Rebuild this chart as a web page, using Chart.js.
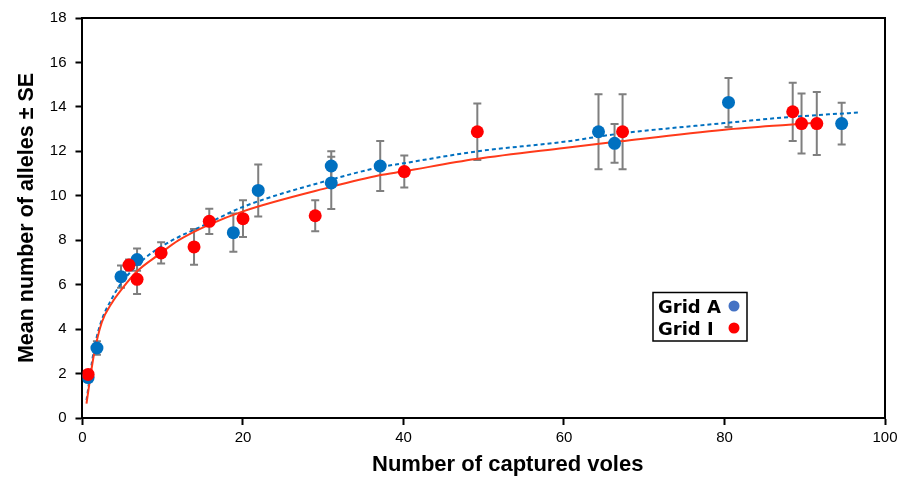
<!DOCTYPE html>
<html>
<head>
<meta charset="utf-8">
<script src="https://cdn.jsdelivr.net/npm/chart.js@4.4.1/dist/chart.umd.min.js"></script>
<style>
  html, body { margin: 0; padding: 0; background: #fff; }
  #wrap { width: 909px; height: 477px; position: relative; }
</style>
</head>
<body>
<div id="wrap"><canvas id="voles-chart"></canvas></div>
<script>
// Grid A (blue) observed means and standard errors
const gridAX = [0.7, 1.8, 4.8, 6.8, 18.8, 21.9, 31, 31, 37.1, 64.3, 66.3, 80.5, 94.6];
const gridAY = [1.82, 3.15, 6.36, 7.13, 8.34, 10.24, 11.34, 10.58, 11.34, 12.88, 12.36, 14.2, 13.25];
const gridASE = [0.1, 0.3, 0.5, 0.5, 0.86, 1.17, 0.66, 1.18, 1.12, 1.69, 0.87, 1.1, 0.94];

// Grid I (red)
const gridIX = [0.7, 5.8, 6.8, 9.8, 13.9, 15.8, 20, 29, 40.1, 49.2, 67.3, 88.5, 89.6, 91.5];
const gridIY = [1.96, 6.88, 6.24, 7.43, 7.7, 8.85, 8.97, 9.1, 11.09, 12.88, 12.88, 13.78, 13.25, 13.25];
const gridISE = [0.1, 0.25, 0.66, 0.48, 0.8, 0.57, 0.83, 0.7, 0.72, 1.27, 1.69, 1.31, 1.35, 1.42];

// fitted curves
const fitAX = [0.5, 1.4, 2.2, 3.7, 4.9, 7.8, 11.2, 15, 20, 31, 37, 40, 49, 60, 67, 80, 88, 96.8];
const fitAY = [0.8, 3.0, 4.2, 5.4, 6.1, 7.2, 8.0, 8.65, 9.5, 10.73, 11.28, 11.46, 11.99, 12.43, 12.8, 13.27, 13.54, 13.75];
const fitIX = [0.5, 1.4, 2.4, 3.7, 4.9, 6.8, 9.5, 12, 15.8, 20, 31, 37, 40, 49, 60, 67, 80, 88, 91.8];
const fitIY = [0.65, 2.8, 4.3, 5.2, 5.8, 6.6, 7.35, 8.0, 8.7, 9.3, 10.4, 10.92, 11.1, 11.65, 12.15, 12.45, 12.97, 13.2, 13.3];

const xTicks = [0, 20, 40, 60, 80, 100];
const yTicks = [0, 2, 4, 6, 8, 10, 12, 14, 16, 18];
const xTitle = 'Number of captured voles';
const legendLabels = ['Grid A', 'Grid I'];
const legendColors = ['#4472C4', '#FF0000'];

const toPoints = (xs, ys) => xs.map((x, i) => ({ x: x, y: ys[i] }));
const FONT = '"Liberation Sans", Arial, sans-serif';

const errorBars = {
  id: 'errorBars',
  beforeDatasetsDraw(chart) {
    const { ctx, scales } = chart;
    ctx.save();
    ctx.strokeStyle = '#7f7f7f';
    ctx.lineWidth = 2;
    chart.data.datasets.forEach((ds) => {
      if (!ds.se) return;
      ds.data.forEach((p, i) => {
        const px = scales.x.getPixelForValue(p.x);
        const top = scales.y.getPixelForValue(p.y + ds.se[i]);
        const bot = scales.y.getPixelForValue(p.y - ds.se[i]);
        ctx.beginPath();
        ctx.moveTo(px, top); ctx.lineTo(px, bot);
        ctx.moveTo(px - 4, top); ctx.lineTo(px + 4, top);
        ctx.moveTo(px - 4, bot); ctx.lineTo(px + 4, bot);
        ctx.stroke();
      });
    });
    ctx.restore();
  },
};

const frameAndLegend = {
  id: 'frameAndLegend',
  afterDraw(chart) {
    const { ctx, chartArea: a } = chart;
    ctx.save();
    ctx.strokeStyle = '#000';
    ctx.lineWidth = 2;
    ctx.beginPath();
    ctx.moveTo(a.left, a.top); ctx.lineTo(a.right, a.top); ctx.lineTo(a.right, a.bottom);
    ctx.stroke();

    // x axis title sits a bit right of centre in the original
    ctx.font = 'bold 22px ' + FONT;
    ctx.fillStyle = '#000';
    ctx.textAlign = 'center';
    ctx.textBaseline = 'alphabetic';
    ctx.fillText(xTitle, (a.left + a.right) / 2 + 24, 471);

    // legend box, text first then marker
    ctx.textAlign = 'left';
    ctx.lineWidth = 1.5;
    ctx.strokeRect(653, 292.5, 94, 48.5);
    ctx.font = 'bold 18px "DejaVu Sans", sans-serif';
    legendLabels.forEach((label, i) => {
      ctx.fillStyle = '#000';
      ctx.fillText(label, 658, 313 + i * 22);
      ctx.beginPath();
      ctx.fillStyle = legendColors[i];
      ctx.arc(734, 306 + i * 22, 5.5, 0, Math.PI * 2);
      ctx.fill();
    });
    ctx.restore();
  },
};

new Chart(document.getElementById('voles-chart').getContext('2d'), {
  type: 'scatter',
  data: {
    datasets: [
      {
        label: 'Grid A',
        data: toPoints(gridAX, gridAY),
        se: gridASE,
        backgroundColor: '#0070C0',
        borderWidth: 0,
        pointRadius: 6.5,
        order: 1,
      },
      {
        label: 'Grid I',
        data: toPoints(gridIX, gridIY),
        se: gridISE,
        backgroundColor: '#FF0000',
        borderWidth: 0,
        pointRadius: 6.5,
        order: 0,
      },
      {
        label: 'Grid A fit',
        type: 'line',
        data: toPoints(fitAX, fitAY),
        borderColor: '#0070C0',
        borderWidth: 2,
        borderDash: [4, 3],
        pointRadius: 0,
        cubicInterpolationMode: 'monotone',
        order: 3,
      },
      {
        label: 'Grid I fit',
        type: 'line',
        data: toPoints(fitIX, fitIY),
        borderColor: '#FF3A1A',
        borderWidth: 2,
        pointRadius: 0,
        cubicInterpolationMode: 'monotone',
        order: 2,
      },
    ],
  },
  options: {
    responsive: true,
    maintainAspectRatio: false,
    animation: false,
    layout: { padding: { top: 4, right: 24, left: 14, bottom: 26 } },
    plugins: { legend: { display: false }, tooltip: { enabled: false } },
    scales: {
      x: {
        type: 'linear',
        min: 0,
        max: 100,
        afterBuildTicks: (scale) => { scale.ticks = xTicks.map((v) => ({ value: v })); },
        grid: { drawOnChartArea: false, tickLength: 7, color: '#000', tickWidth: 2 },
        border: { color: '#000', width: 2 },
        ticks: { color: '#000', font: { family: FONT, size: 15 }, padding: 4 },
      },
      y: {
        min: 0,
        max: 18,
        afterBuildTicks: (scale) => { scale.ticks = yTicks.map((v) => ({ value: v })); },
        grid: { drawOnChartArea: false, tickLength: 7, color: '#000', tickWidth: 2 },
        border: { color: '#000', width: 2 },
        ticks: { color: '#000', font: { family: FONT, size: 15 }, padding: 9 },
        title: {
          display: true,
          text: 'Mean number of alleles ± SE',
          color: '#000',
          font: { family: FONT, size: 21.5, weight: 'bold' },
          padding: { top: 0, bottom: 1 },
        },
      },
    },
  },
  plugins: [errorBars, frameAndLegend],
});
</script>
</body>
</html>
